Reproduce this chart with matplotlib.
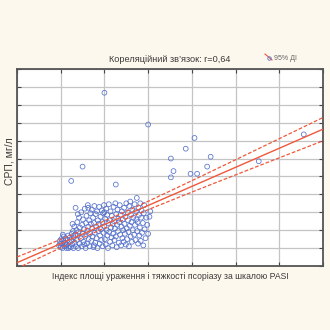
import numpy as np
import matplotlib.pyplot as plt
from matplotlib.lines import Line2D

# ---------------------------------------------------------------------------
# DATA: PASI index vs CRP (mg/l), one point per patient
# ---------------------------------------------------------------------------

pasi = [
    # PASI ~ 9.5-12
    9.6, 9.8, 10.0, 10.1, 10.3, 10.4, 10.6, 10.7, 10.9, 11.0, 11.1, 11.3, 11.4,
    11.6, 11.7, 11.9, 12.0, 12.1, 9.9, 10.5, 11.2, 11.8,
    # 12-14.5
    12.3, 12.4, 12.5, 12.6, 12.8, 12.9, 13.0, 13.1, 13.2, 13.3, 13.4, 13.5,
    13.6, 13.7, 13.8, 13.9, 14.0, 14.1, 14.2, 14.3, 14.4, 12.7, 13.9,
    # 14.5-17
    14.6, 14.7, 14.8, 14.9, 15.0, 15.1, 15.2, 15.3, 15.5, 15.6, 15.7, 15.8,
    15.9, 16.0, 16.1, 16.2, 16.3, 16.4, 16.5, 16.6, 16.7, 16.8, 16.9, 15.4, 16.3,
    # 17-19.5
    17.0, 17.1, 17.2, 17.3, 17.4, 17.5, 17.6, 17.7, 17.8, 17.9, 18.0, 18.1,
    18.2, 18.3, 18.4, 18.5, 18.6, 18.7, 18.8, 18.9, 19.0, 19.1, 19.2, 19.3,
    19.4, 17.6,
    # 19.5-22
    19.5, 19.6, 19.7, 19.8, 19.9, 20.0, 20.1, 20.2, 20.3, 20.4, 20.5, 20.6,
    20.7, 20.8, 20.9, 21.0, 21.1, 21.2, 21.3, 21.4, 21.5, 21.6, 21.7, 21.8,
    21.9, 20.0,
    # 22-24.5
    22.0, 22.1, 22.2, 22.3, 22.4, 22.5, 22.6, 22.7, 22.8, 22.9, 23.0, 23.1,
    23.2, 23.3, 23.4, 23.5, 23.6, 23.7, 23.8, 23.9, 24.0, 24.1, 24.2, 24.3, 24.4,
    # 24.5-27
    24.5, 24.6, 24.7, 24.8, 24.9, 25.0, 25.1, 25.2, 25.3, 25.4, 25.5, 25.6,
    25.7, 25.8, 25.9, 26.0, 26.1, 26.2, 26.3, 26.4, 26.5, 26.6, 26.8, 26.9,
    # 27-30.5
    27.0, 27.1, 27.2, 27.3, 27.4, 27.5, 27.6, 27.7, 27.8, 27.9, 28.0, 28.1,
    28.2, 28.3, 28.4, 28.5, 28.6, 28.8, 28.9, 29.0, 29.2, 29.4, 29.6, 29.8,
    30.0, 30.3, 29.1, 30.5,
    # high CRP / high PASI patients
    20.0, 30.0, 35.2, 35.8, 35.2, 15.0, 12.4, 22.6, 40.6, 38.6, 44.3, 43.5,
    39.7, 41.2, 55.3, 65.6,
]

crp = [
    2.3, 2.8, 2.1, 3.0, 2.5, 2.0, 2.8, 3.3, 2.2, 2.6, 3.1, 2.0, 2.4,
    2.9, 3.4, 2.2, 2.7, 3.2, 2.5, 3.5, 2.3, 2.0,
    2.1, 2.9, 3.6, 2.4, 3.9, 2.0, 3.2, 4.4, 2.6, 3.5, 6.5, 2.2,
    4.0, 2.9, 4.9, 3.4, 2.0, 3.8, 5.4, 2.5, 4.3, 4.7, 5.8,
    3.1, 6.0, 2.2, 4.6, 3.6, 5.2, 2.7, 4.1, 6.4, 3.3, 2.0, 4.8,
    5.6, 2.5, 3.9, 6.8, 4.4, 3.0, 5.1, 2.2, 3.6, 5.9, 4.7, 2.4, 6.5,
    2.8, 6.3, 4.2, 3.3, 5.4, 2.1, 4.8, 6.7, 3.7, 2.6, 5.8, 4.4,
    3.1, 6.1, 2.0, 5.1, 3.9, 4.7, 6.6, 2.5, 3.4, 5.5, 4.1, 2.9,
    6.2, 2.3,
    4.9, 2.2, 5.9, 3.7, 6.8, 4.4, 3.0, 5.3, 2.4, 6.4, 4.0, 5.7,
    3.4, 2.0, 4.8, 6.9, 3.8, 5.1, 2.7, 6.1, 4.3, 3.2, 5.6, 2.3,
    4.7, 6.0,
    3.6, 6.6, 5.0, 2.9, 4.2, 7.0, 3.3, 5.8, 2.1, 4.6, 6.3, 3.9,
    5.3, 2.6, 4.9, 6.8, 3.5, 5.7, 2.3, 4.4, 6.1, 3.1, 5.2, 4.0, 2.7,
    6.5, 4.7, 3.6, 5.5, 2.4, 7.0, 4.2, 3.0, 6.0, 5.1, 3.8, 2.2,
    6.7, 4.5, 7.2, 3.3, 5.7, 4.9, 2.7, 6.3, 4.0, 5.4, 3.5, 6.9,
    4.6, 2.9, 6.1, 5.2, 7.6, 3.9, 4.9, 2.5, 6.5, 5.7, 3.4, 4.3,
    7.0, 2.8, 5.4, 6.2, 3.7, 4.8, 2.3, 5.9, 4.1, 3.1, 5.4, 4.6,
    3.6, 5.5, 6.8, 6.1,
    19.35, 15.8, 12.0, 10.6, 9.9, 11.1, 9.5, 9.1, 14.3, 13.1, 12.2, 11.1,
    10.3, 10.3, 11.7, 14.7,
]

# published regression line CRP = a + b * PASI
fit_intercept = 0.37
fit_slope = 0.213

# 95% confidence band: narrowest half-width at the band centre, and at PASI = 70
ci_center = 20.0
ci_min_halfwidth = 0.4
ci_edge_halfwidth = 1.3

title = "Кореляційний зв\u2019язок: r=0,64"
xlabel = "Індекс площі ураження і тяжкості псоріазу за шкалою PASI"
ylabel = "СРП, мг/л"
ci_label = "95% ДІ"

# ---------------------------------------------------------------------------
# REGRESSION LINE + CONFIDENCE BAND (hyperbolic, as for the mean response)
# ---------------------------------------------------------------------------

x_line = np.linspace(0, 70, 200)
y_line = fit_slope * x_line + fit_intercept

k2 = (ci_edge_halfwidth**2 - ci_min_halfwidth**2) / (70 - ci_center)**2
half_width = np.sqrt(ci_min_halfwidth**2 + k2 * (x_line - ci_center)**2)

# ---------------------------------------------------------------------------
# PLOT
# ---------------------------------------------------------------------------

plt.rcParams["font.family"] = ["Liberation Sans", "DejaVu Sans"]

bg = "#fdf8ee"
red = "#f0583a"
blue = "#5571cc"
text_col = "#3a3a3a"

fig = plt.figure(figsize=(3.3, 3.3), dpi=100, facecolor=bg)
ax = fig.add_axes([17 / 330, 64 / 330, 306 / 330, 197 / 330])
ax.set_facecolor("white")

ax.scatter(pasi, crp, s=12, facecolors="none", edgecolors=blue, linewidths=0.55, zorder=3)
ax.plot(x_line, y_line, color=red, lw=1.0, zorder=4)
ax.plot(x_line, y_line + half_width, color=red, lw=0.9, ls=(0, (3, 1.5)), zorder=4)
ax.plot(x_line, y_line - half_width, color=red, lw=0.9, ls=(0, (3, 1.5)), zorder=4)

ax.set_xlim(0, 70)
ax.set_ylim(0, 22)
ax.set_xticks(np.arange(0, 71, 10))
ax.set_yticks(np.arange(0, 23, 2))
ax.tick_params(direction="in", length=3, width=0.8, color="#444444",
               top=True, right=True, labelbottom=False, labelleft=False)
ax.grid(color="#c4c4c4", lw=0.9)
ax.set_axisbelow(True)
for sp in ax.spines.values():
    sp.set_color("#555555")
    sp.set_linewidth(1.3)

ax.set_title(title, fontsize=6.6, color=text_col, pad=5)
ax.set_xlabel(xlabel, fontsize=6.2, color=text_col, labelpad=4)
ax.set_ylabel(ylabel, fontsize=7.5, color=text_col, va="center")
ax.yaxis.set_label_coords(-0.023, 0.53)

# legend glyph for the confidence band
fig.add_artist(Line2D([265 / 330, 272 / 330], [1 - 54 / 330, 1 - 60 / 330],
                      color=red, lw=0.8))
fig.add_artist(Line2D([269 / 330], [1 - 57.5 / 330], marker="o", ms=2.5,
                      mfc="none", mec=blue, mew=0.6))
fig.text(274 / 330, 1 - 58 / 330, ci_label, fontsize=5, color="#666666", va="center")

plt.savefig("out.png", dpi=100, facecolor=bg)
